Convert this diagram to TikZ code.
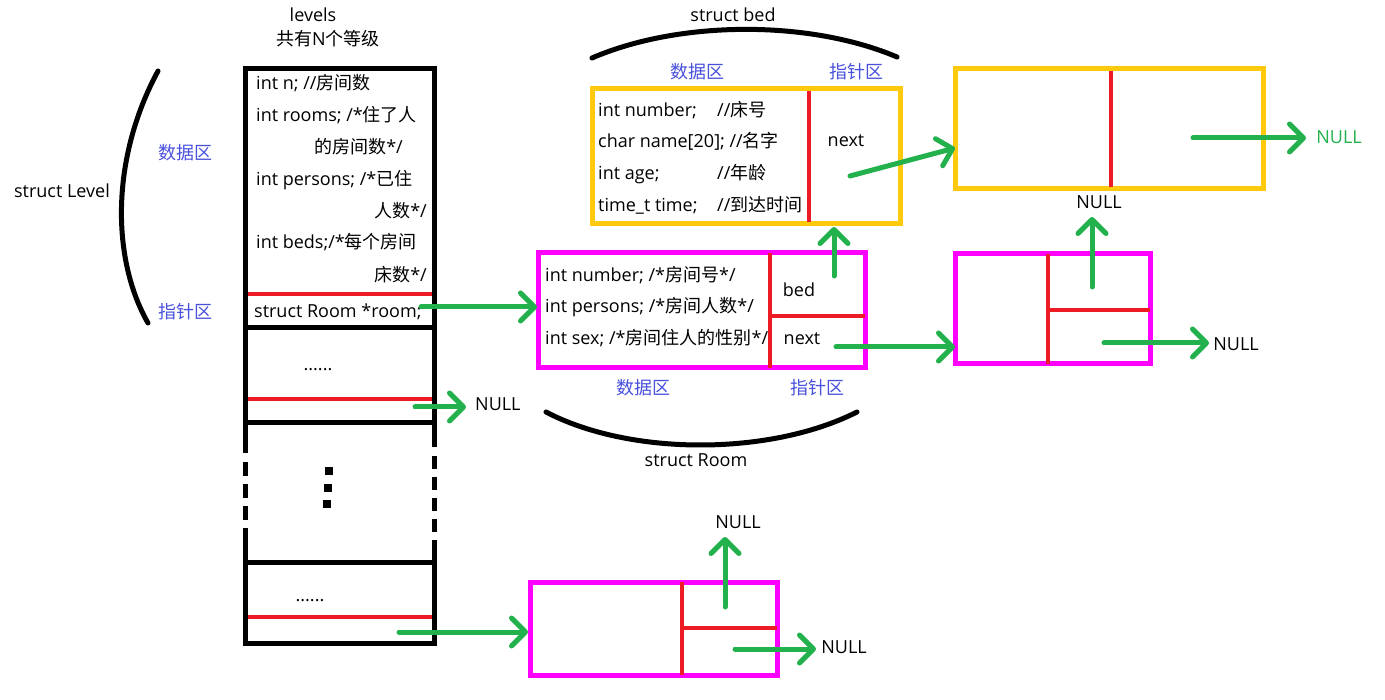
\documentclass[tikz,border=0pt]{standalone}
\usepackage{fontspec}
\setmainfont{Open Sans}
\newfontfamily\zhfont{Noto Sans CJK SC}
\usetikzlibrary{arrows.meta}
\definecolor{boxyellow}{RGB}{255,201,14}
\definecolor{boxpink}{RGB}{255,0,255}
\definecolor{divred}{RGB}{237,28,36}
\definecolor{ptrgreen}{RGB}{34,177,76}
\definecolor{areablue}{RGB}{72,80,220}
\newcommand{\zh}[1]{{\zhfont #1}}
\tikzstyle{txt} = [inner sep=0pt, font=\fontsize{18}{22}\selectfont,
   text height=13pt, text depth=4pt]
\tikzstyle{areaTxt} = [txt, text=areablue]
\tikzstyle{wall} = [line width=5pt, black]
\tikzstyle{divider} = [line width=4pt, divred]
\tikzstyle{bedBox} = [draw=boxyellow, line width=5pt, rectangle,
   inner sep=0pt, outer sep=0pt]
\tikzstyle{roomBox} = [draw=boxpink, line width=5pt, rectangle,
   inner sep=0pt, outer sep=0pt]
\tikzstyle{ptr} = [line width=5pt, ptrgreen, line cap=round,
   -{Straight Barb[length=14pt,width=28pt,round]}]
\tikzstyle{braceArc} = [line width=5pt, line cap=round]

\begin{document}
\begin{tikzpicture}[x=1pt,y=-1pt]
  \useasboundingbox (0,0) rectangle (1385,700);

  % struct Level column
  \node[txt] (lvname) at (313,17) {levels};
  \node[txt] (lvcount) at (328,41) {\zh{共有}N\zh{个等级}};
  \draw[divider] (245,294) -- (434,294);
  \draw[divider] (245,399) -- (434,399);
  \draw[divider] (245,617) -- (434,617);
  \draw[wall] (245,453) -- (245,69) -- (434,69) -- (434,447);
  \draw[wall] (245,528) -- (245,643) -- (434,643) -- (434,540);
  \draw[wall, dash pattern=on 14pt off 8pt] (245,462) -- (245,520);
  \draw[wall, dash pattern=on 13pt off 8pt] (434,456) -- (434,532);
  \draw[wall] (245,328) -- (434,328);
  \draw[wall] (245,423) -- (434,423);
  \draw[wall] (245,562) -- (434,562);
  \fill (325,467) rectangle (333,475);
  \fill (324,484) rectangle (332,492);
  \fill (323,500) rectangle (331,508);

  \node[txt, anchor=west] (lvn) at (256,85) {int n; //\zh{房间数}};
  \node[txt, anchor=west] (lvrooms) at (256,117) {int rooms; /*\zh{住了人}};
  \node[txt, anchor=east] (lvrooms2) at (403,149) {\zh{的房间数}*/};
  \node[txt, anchor=west] (lvpersons) at (256,181) {int persons; /*\zh{已住}};
  \node[txt, anchor=east] (lvpersons2) at (427,213) {\zh{人数}*/};
  \node[txt, anchor=west] (lvbeds) at (256,244) {int beds;/*\zh{每个房间}};
  \node[txt, anchor=east] (lvbeds2) at (427,277) {\zh{床数}*/};
  \node[txt, anchor=west] (lvroom) at (254,313) {struct Room *room;};
  \node[txt] (lvdots1) at (318,366) {......};
  \node[txt] (lvdots2) at (310,597) {......};
  \node[txt, anchor=west] (lvnull) at (475,406) {NULL};

  \draw[braceArc] (158,71) .. controls (110,160) and (112,260) .. (148,323);
  \node[txt] (lvlabel) at (62,193) {struct Level};
  \node[areaTxt] (lvdata) at (185,155) {\zh{数据区}};
  \node[areaTxt] (lvptr) at (185,314) {\zh{指针区}};

  % struct bed
  \node[bedBox, minimum width=308pt, minimum height=135pt] (bed) at (746,156.5) {};
  \draw[divider] (809,91) -- (809,222);
  \node[txt, anchor=west] (bednum) at (598,112) {int number;};
  \node[txt, anchor=west] (bednumc) at (717,112) {//\zh{床号}};
  \node[txt, anchor=west] (bedname) at (598,143) {char name[20]; //\zh{名字}};
  \node[txt, anchor=west] (bedage) at (598,175) {int age;};
  \node[txt, anchor=west] (bedagec) at (717,175) {//\zh{年龄}};
  \node[txt, anchor=west] (bedtime) at (598,207) {time\_t time;};
  \node[txt, anchor=west] (bedtimec) at (717,207) {//\zh{到达时间}};
  \node[txt] (bednext) at (846,142) {next};
  \node[areaTxt] (beddata) at (697,74) {\zh{数据区}};
  \node[areaTxt] (bedptr) at (856,74) {\zh{指针区}};
  \draw[braceArc] (592,58) .. controls (680,20) and (810,20) .. (897,57);
  \node[txt] (bedlabel) at (733,17) {struct bed};

  % struct Room
  \node[roomBox, minimum width=327pt, minimum height=115pt] (room) at (701.5,310.5) {};
  \draw[divider] (770,253) -- (770,368);
  \draw[divider] (770,316) -- (865,316);
  \node[txt, anchor=west] (roomnum) at (545,277) {int number; /*\zh{房间号}*/};
  \node[txt, anchor=west] (roompersons) at (545,308) {int persons; /*\zh{房间人数}*/};
  \node[txt, anchor=west] (roomsex) at (545,340) {int sex; /*\zh{房间住人的性别}*/};
  \node[txt] (roombed) at (799,292) {bed};
  \node[txt] (roomnext) at (802,340) {next};
  \node[areaTxt] (roomdata) at (643,390) {\zh{数据区}};
  \node[areaTxt] (roomptr) at (817,390) {\zh{指针区}};
  \draw[braceArc] (546,412) .. controls (630,456) and (770,456) .. (857,412);
  \node[txt] (roomlabel) at (696,462) {struct Room};

  % next bed
  \node[bedBox, minimum width=308pt, minimum height=120pt] (bedb) at (1109,129) {};
  \draw[divider] (1111,71) -- (1111,187);
  \node[txt, text=ptrgreen] (bedbnull) at (1339,139) {NULL};

  % next room
  \node[roomBox, minimum width=195pt, minimum height=110pt] (roomb) at (1052.5,309) {};
  \draw[divider] (1048,254) -- (1048,364);
  \draw[divider] (1048,310) -- (1150,310);
  \node[txt] (roombbed) at (1099,204) {NULL};
  \node[txt] (roombnull) at (1236,346) {NULL};

  % room of the last level
  \node[roomBox, minimum width=247pt, minimum height=93pt] (roomc) at (653.5,628.5) {};
  \draw[divider] (682,582) -- (682,675);
  \draw[divider] (682,628) -- (777,628);
  \node[txt] (roomcbed) at (738,524) {NULL};
  \node[txt] (roomcnull) at (844,649) {NULL};

  % pointer ends
  \coordinate (p1) at (421,307);  \coordinate (q1) at (537,307);
  \coordinate (p2) at (415,407);  \coordinate (q2) at (466,407);
  \coordinate (p3) at (399,632);  \coordinate (q3) at (528,632);
  \coordinate (p4) at (834,276);  \coordinate (q4) at (834,227);
  \coordinate (p5) at (850,176);  \coordinate (q5) at (955,148);
  \coordinate (p6) at (836,347);  \coordinate (q6) at (955,347);
  \coordinate (p7) at (1193,138); \coordinate (q7) at (1306,138);
  \coordinate (p8) at (1092,287); \coordinate (q8) at (1092,217);
  \coordinate (p9) at (1104,343); \coordinate (q9) at (1209,343);
  \coordinate (p10) at (725,607); \coordinate (q10) at (725,537);
  \coordinate (p11) at (735,649); \coordinate (q11) at (816,649);

  % draw arrows
  \draw[ptr] (p1) -- (q1);
  \draw[ptr] (p2) -- (q2);
  \draw[ptr] (p3) -- (q3);
  \draw[ptr] (p4) -- (q4);
  \draw[ptr] (p5) -- (q5);
  \draw[ptr] (p6) -- (q6);
  \draw[ptr] (p7) -- (q7);
  \draw[ptr] (p8) -- (q8);
  \draw[ptr] (p9) -- (q9);
  \draw[ptr] (p10) -- (q10);
  \draw[ptr] (p11) -- (q11);
\end{tikzpicture}
\end{document}
